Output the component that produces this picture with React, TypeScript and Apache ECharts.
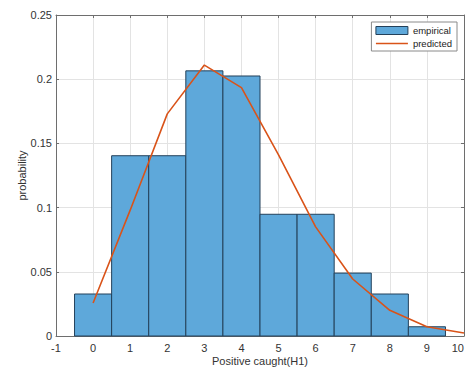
import React, { useEffect, useRef } from "react";
import * as echarts from "echarts";

const binCenters = [0, 1, 2, 3, 4, 5, 6, 7, 8, 9];
const empirical = [0.0327, 0.1404, 0.1404, 0.2065, 0.2025, 0.0948, 0.0948, 0.049, 0.0327, 0.0072];
const predictedX = [0, 1, 2, 3, 4, 5, 6, 7, 8, 9, 10];
const predicted = [0.0257, 0.098, 0.173, 0.211, 0.1934, 0.141, 0.085, 0.0444, 0.020, 0.0072, 0.0023];
const xTicks = [-1, 0, 1, 2, 3, 4, 5, 6, 7, 8, 9, 10];
const yTicks = [0, 0.05, 0.1, 0.15, 0.2, 0.25];

const FONT = "'Liberation Sans', Arial, Helvetica, sans-serif";
const BAR_FILL = "#5ea8da";
const BAR_EDGE = "#23405a";
const LINE_COLOR = "#d95319";
const AXIS_COLOR = "#6e6e6e";
const TEXT_COLOR = "#333333";

export default function App() {
  const ref = useRef<HTMLDivElement>(null);

  useEffect(() => {
    if (!ref.current) return;
    const chart = echarts.init(ref.current, undefined, { renderer: "svg" });

    const xMin = xTicks[0];
    const xMax = xTicks[xTicks.length - 1];
    const yMin = yTicks[0];
    const yMax = yTicks[yTicks.length - 1];

    const commonX = { type: "value" as const, min: xMin, max: xMax, interval: 1 };
    const commonY = { type: "value" as const, min: yMin, max: yMax, interval: 0.05 };

    chart.setOption({
      animation: false,
      backgroundColor: "#ffffff",
      grid: {
        left: 56,
        right: 3,
        top: 15,
        bottom: 35,
        containLabel: false,
        outerBoundsMode: "none",
      },
      legend: {
        orient: "vertical",
        right: 10,
        top: 22,
        padding: [3, 5, 2, 4],
        itemGap: 2,
        itemWidth: 32,
        itemHeight: 8,
        borderColor: "#8a8a8a",
        borderWidth: 1,
        backgroundColor: "#ffffff",
        textStyle: { fontFamily: FONT, fontSize: 9.5, color: "#222", lineHeight: 11 },
        data: [
          {
            name: "empirical",
            icon: "rect",
            itemStyle: { color: BAR_FILL, borderColor: BAR_EDGE, borderWidth: 1 },
          },
          {
            name: "predicted",
            icon: "path://M0,0L32,0L32,0Z M0,3.2L32,3.2L32,4.8L0,4.8Z M0,8L32,8L32,8Z",
            itemStyle: { color: LINE_COLOR, borderWidth: 0 },
          },
        ],
      },
      xAxis: [
        {
          ...commonX,
          position: "bottom",
          name: "Positive caught(H1)",
          nameLocation: "middle",
          nameGap: 19,
          nameMoveOverlap: false,
          nameTextStyle: { fontFamily: FONT, fontSize: 11, color: TEXT_COLOR },
          axisLine: { show: true, onZero: false, lineStyle: { color: AXIS_COLOR, width: 1 } },
          axisTick: { show: true, inside: true, length: 3, lineStyle: { color: AXIS_COLOR } },
          axisLabel: {
            fontFamily: FONT,
            fontSize: 11,
            color: TEXT_COLOR,
            margin: 6,
            alignMaxLabel: "right",
            formatter: (v: number) => String(v),
          },
          splitLine: { show: true, lineStyle: { color: "#e3e3e3", width: 1 } },
        },
        {
          ...commonX,
          position: "top",
          axisLine: { show: true, onZero: false, lineStyle: { color: AXIS_COLOR, width: 1 } },
          axisTick: { show: true, inside: true, length: 3, lineStyle: { color: AXIS_COLOR } },
          axisLabel: { show: false },
          splitLine: { show: false },
        },
      ],
      yAxis: [
        {
          ...commonY,
          position: "left",
          name: "probability",
          nameLocation: "middle",
          nameGap: 29,
          nameMoveOverlap: false,
          nameTextStyle: { fontFamily: FONT, fontSize: 11, color: TEXT_COLOR },
          axisLine: { show: true, onZero: false, lineStyle: { color: AXIS_COLOR, width: 1 } },
          axisTick: { show: true, inside: true, length: 3, lineStyle: { color: AXIS_COLOR } },
          axisLabel: {
            fontFamily: FONT,
            fontSize: 11,
            color: TEXT_COLOR,
            margin: 4,
            formatter: (v: number) => String(Math.round(v * 100) / 100),
          },
          splitLine: { show: true, lineStyle: { color: "#e3e3e3", width: 1 } },
        },
        {
          ...commonY,
          position: "right",
          axisLine: { show: true, onZero: false, lineStyle: { color: AXIS_COLOR, width: 1 } },
          axisTick: { show: true, inside: true, length: 3, lineStyle: { color: AXIS_COLOR } },
          axisLabel: { show: false },
          splitLine: { show: false },
        },
      ],
      series: [
        {
          name: "empirical",
          type: "custom",
          xAxisIndex: 0,
          yAxisIndex: 0,
          itemStyle: { color: BAR_FILL, borderColor: BAR_EDGE, borderWidth: 1 },
          data: binCenters.map((c, i) => [c, empirical[i]]),
          renderItem: (params: any, api: any) => {
            const x = api.value(0);
            const y = api.value(1);
            const p1 = api.coord([x - 0.5, y]);
            const p2 = api.coord([x + 0.5, 0]);
            return {
              type: "rect",
              shape: { x: p1[0], y: p1[1], width: p2[0] - p1[0], height: p2[1] - p1[1] },
              style: { fill: BAR_FILL, stroke: BAR_EDGE, lineWidth: 1 },
            };
          },
          z: 2,
        },
        {
          name: "predicted",
          type: "line",
          xAxisIndex: 0,
          yAxisIndex: 0,
          symbol: "none",
          showSymbol: false,
          lineStyle: { color: LINE_COLOR, width: 1.6 },
          itemStyle: { color: LINE_COLOR },
          data: predictedX.map((x, i) => [x, predicted[i]]),
          z: 3,
        },
      ],
    });

    return () => chart.dispose();
  }, []);

  return (
    <div
      ref={ref}
      style={{ position: "absolute", left: 0, top: 0, width: 467, height: 371 }}
    />
  );
}
